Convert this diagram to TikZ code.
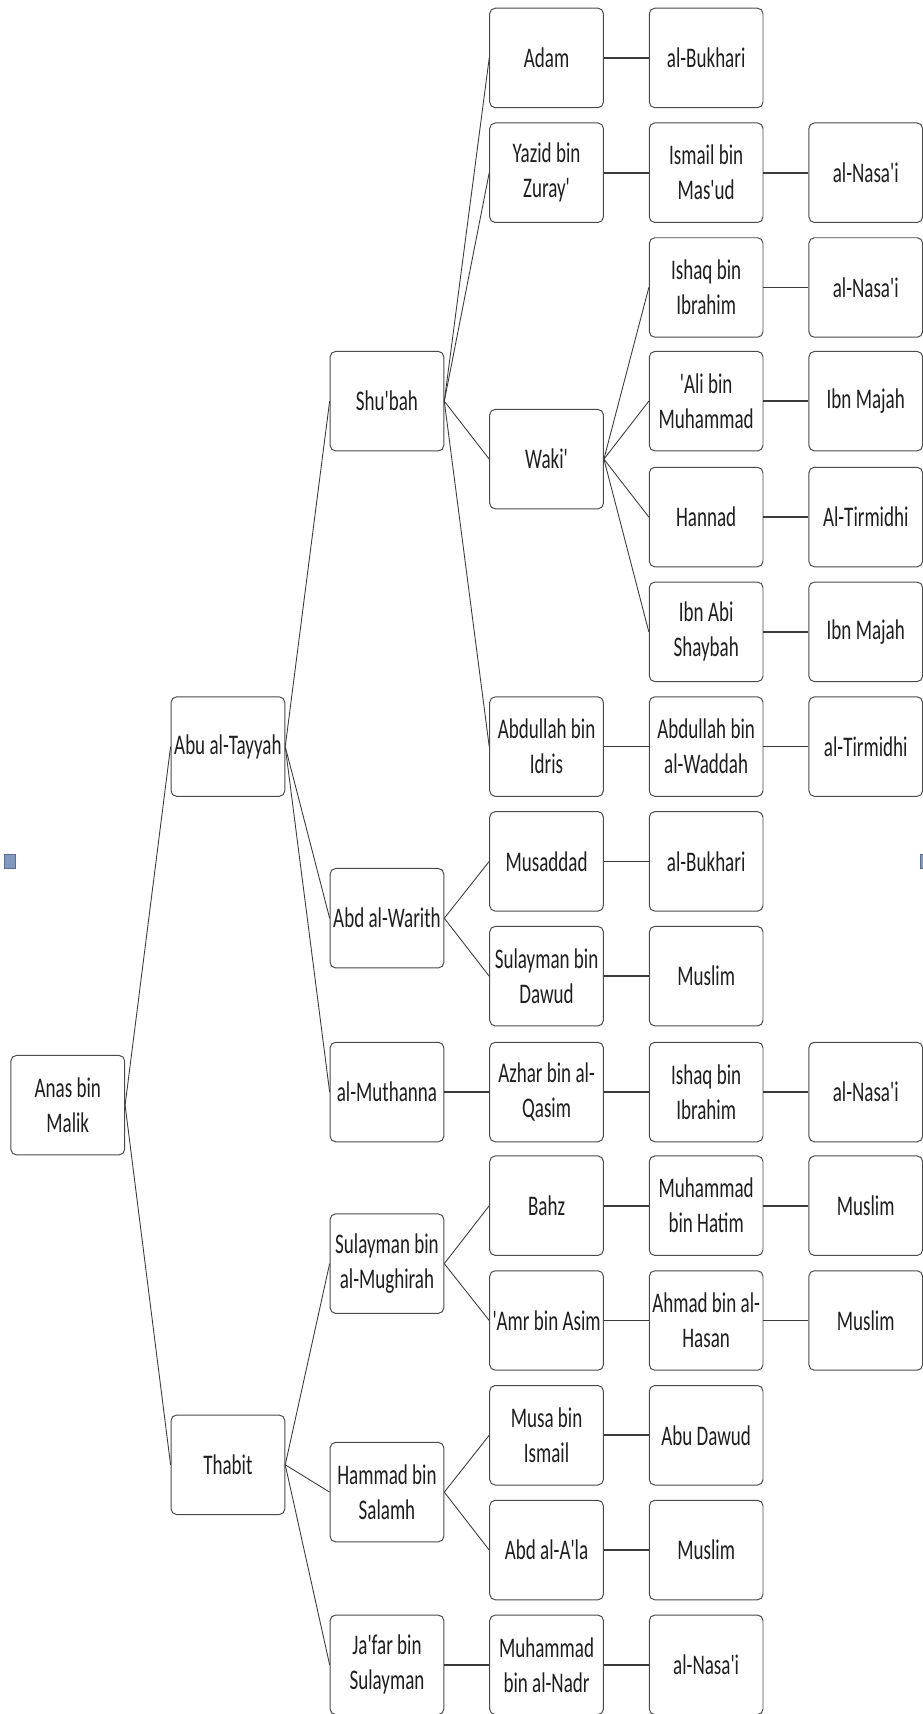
\documentclass[tikz,border=0pt]{standalone}
\usepackage{fontspec}
\newfontfamily\boxfont{Carlito}[FakeStretch=0.67]
\definecolor{boxline}{HTML}{4A4A4A}
\definecolor{lnk}{HTML}{3A3A3A}
\definecolor{txt}{HTML}{1E1E1E}
\definecolor{handle}{HTML}{8298BC}
\definecolor{handleb}{HTML}{5A6F94}
\tikzset{
  box/.style={draw=boxline, line width=0.9pt, rounded corners=5pt,
    minimum width=104pt, minimum height=91pt, align=center,
    font=\boxfont\fontsize{26}{32}\selectfont, text=txt, inner sep=1pt},
  link/.style={draw=lnk, line width=0.8pt},
  hlink/.style={draw=lnk, line width=1.6pt},
  handlebox/.style={fill=handle, draw=handleb, line width=0.6pt}
}
\begin{document}
\begin{tikzpicture}[x=1pt,y=-1pt]
\useasboundingbox (0,0) rectangle (844,1568);
% column 0
\node[box] (anas) at (62,1011) {Anas bin\\Malik};
% column 1
\node[box] (abutayyah) at (208.5,683) {Abu al-Tayyah};
\node[box] (thabit) at (208.5,1340) {Thabit};
% column 2
\node[box] (shubah) at (354,367) {Shu'bah};
\node[box] (abdwarith) at (354,840) {Abd al-Warith};
\node[box] (muthanna) at (354,999) {al-Muthanna};
\node[box] (sulmugh) at (354,1156) {Sulayman bin\\al-Mughirah};
\node[box] (hammad) at (354,1365) {Hammad bin\\Salamh};
\node[box] (jafar) at (354,1523) {Ja'far bin\\Sulayman};
% column 3
\node[box] (adam) at (500,53) {Adam};
\node[box] (yazid) at (500,158) {Yazid bin\\Zuray'};
\node[box] (waki) at (500,420) {Waki'};
\node[box] (abdidris) at (500,683) {Abdullah bin\\Idris};
\node[box] (musaddad) at (500,788) {Musaddad};
\node[box] (suldawud) at (500,893) {Sulayman bin\\Dawud};
\node[box] (azhar) at (500,999) {Azhar bin al-\\Qasim};
\node[box] (bahz) at (500,1103) {Bahz};
\node[box] (amr) at (500,1208) {'Amr bin Asim};
\node[box] (musa) at (500,1313) {Musa bin\\Ismail};
\node[box] (abdala) at (500,1418) {Abd al-A'la};
\node[box] (muhnadr) at (500,1523) {Muhammad\\bin al-Nadr};
% column 4
\node[box] (bukhariA) at (646,53) {al-Bukhari};
\node[box] (ismail) at (646,158) {Ismail bin\\Mas'ud};
\node[box] (ishaqA) at (646,263) {Ishaq bin\\Ibrahim};
\node[box] (ali) at (646,367) {'Ali bin\\Muhammad};
\node[box] (hannad) at (646,473) {Hannad};
\node[box] (ibnabi) at (646,578) {Ibn Abi\\Shaybah};
\node[box] (waddah) at (646,683) {Abdullah bin\\al-Waddah};
\node[box] (bukhariB) at (646,788) {al-Bukhari};
\node[box] (muslimA) at (646,893) {Muslim};
\node[box] (ishaqB) at (646,999) {Ishaq bin\\Ibrahim};
\node[box] (muhhatim) at (646,1103) {Muhammad\\bin Hatim};
\node[box] (ahmad) at (646,1208) {Ahmad bin al-\\Hasan};
\node[box] (abudawud) at (646,1313) {Abu Dawud};
\node[box] (muslimB) at (646,1418) {Muslim};
\node[box] (nasaiD) at (646,1523) {al-Nasa'i};
% column 5
\node[box] (nasaiA) at (792,158) {al-Nasa'i};
\node[box] (nasaiB) at (792,263) {al-Nasa'i};
\node[box] (majahA) at (792,367) {Ibn Majah};
\node[box] (tirmA) at (792,473) {Al-Tirmidhi};
\node[box] (majahB) at (792,578) {Ibn Majah};
\node[box] (tirmB) at (792,683) {al-Tirmidhi};
\node[box] (nasaiC) at (792,999) {al-Nasa'i};
\node[box] (muslimC) at (792,1103) {Muslim};
\node[box] (muslimD) at (792,1208) {Muslim};
% handles
\node[handlebox, minimum width=10pt, minimum height=12pt, inner sep=0pt] (hl) at (9,788) {};
\node[handlebox, minimum width=6pt, minimum height=12pt, inner sep=0pt] (hr) at (845,788) {};
% branching links
\foreach \p/\c in {anas/abutayyah, anas/thabit,
  abutayyah/shubah, abutayyah/abdwarith, abutayyah/muthanna,
  thabit/sulmugh, thabit/hammad, thabit/jafar,
  shubah/adam, shubah/yazid, shubah/waki, shubah/abdidris,
  abdwarith/musaddad, abdwarith/suldawud,
  sulmugh/bahz, sulmugh/amr,
  hammad/musa, hammad/abdala,
  waki/ishaqA, waki/ali, waki/hannad, waki/ibnabi}
  \draw[link] (\p.east) -- (\c.west);
% straight chains
\foreach \p/\c in {adam/bukhariA, yazid/ismail, ismail/nasaiA,
  ishaqA/nasaiB, ali/majahA, hannad/tirmA, ibnabi/majahB,
  abdidris/waddah, waddah/tirmB, musaddad/bukhariB, suldawud/muslimA,
  muthanna/azhar, azhar/ishaqB, ishaqB/nasaiC,
  bahz/muhhatim, muhhatim/muslimC, amr/ahmad, ahmad/muslimD,
  musa/abudawud, abdala/muslimB, jafar/muhnadr, muhnadr/nasaiD}
  \draw[hlink] (\p.east) -- (\c.west);
\end{tikzpicture}
\end{document}
